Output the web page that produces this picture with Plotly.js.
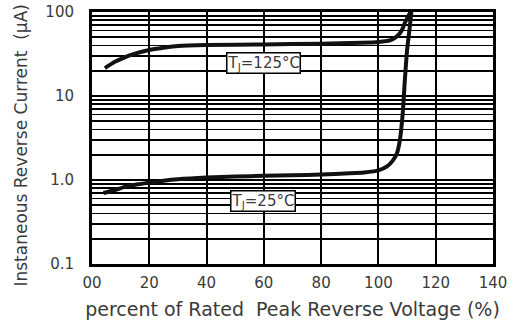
<!DOCTYPE html>
<html>
<head>
<meta charset="utf-8">
<script src="https://cdn.plot.ly/plotly-3.0.1.min.js"></script>
<style>html,body{margin:0;padding:0;background:#fff;}#chart{width:518px;height:327px;}</style>
</head>
<body>
<div id="chart"></div>
<script>
// 125 °C curve
const voltage125 = [4.5, 8, 11, 15, 20, 25, 30, 40, 60, 80, 94, 100, 104, 106, 107.5, 108.5, 109.2, 110.2, 111, 111.4];
const current125 = [21.5, 25.5, 28.5, 32, 35.3, 37.5, 39.4, 40.5, 41, 42, 43, 44, 46, 50, 56, 64, 74, 86, 97, 100];
// 25 °C curve
const voltage25 = [4, 8, 12, 16, 20, 25, 30, 40, 50, 60, 70, 80, 90, 95, 100, 103, 105, 106.5, 107.5, 108.5, 109.2, 110, 110.8, 111.5];
const current25 = [0.70, 0.76, 0.84, 0.89, 0.93, 0.98, 1.02, 1.07, 1.1, 1.12, 1.14, 1.16, 1.2, 1.23, 1.3, 1.45, 1.7, 2.1, 3.0, 6.3, 15, 35, 60, 100];

const xTickVals = [0, 20, 40, 60, 80, 100, 120, 140];
const xTickText = ["00", "20", "40", "60", "80", "100", "120", "140"];
const yTickVals = [0.1, 1, 10, 100];
const yTickText = ["0.1", "1.0", "10", "100"];
const yMinorVals = [0.2,0.3,0.4,0.5,0.6,0.7,0.8,0.9,2,3,4,5,6,7,8,9,20,30,40,50,60,70,80,90];

const traces = [
  {x: voltage125, y: current125, mode: 'lines', line: {color: '#111', width: 4, shape: 'spline', smoothing: 0.6}, hoverinfo: 'skip'},
  {x: voltage25, y: current25, mode: 'lines', line: {color: '#111', width: 4, shape: 'spline', smoothing: 0.6}, hoverinfo: 'skip'}
];

const font = {family: 'DejaVu Sans, Liberation Sans, Arial, sans-serif', color: '#3a3a3a'};

const layout = {
  width: 518, height: 327,
  margin: {l: 92, r: 25, t: 12, b: 63},
  paper_bgcolor: '#fff', plot_bgcolor: '#fff',
  showlegend: false,
  font: Object.assign({size: 15}, font),
  xaxis: {
    range: [0, 140], tickvals: xTickVals, ticktext: xTickText,
    showgrid: true, gridcolor: '#000', gridwidth: 2,
    showline: true, mirror: true, linecolor: '#000', linewidth: 3,
    ticks: '', ticklabelstandoff: 3, zeroline: false,
    tickfont: Object.assign({size: 15}, font),
    title: {text: 'percent of Rated  Peak Reverse Voltage (%)', font: Object.assign({size: 19}, font), standoff: 12}
  },
  yaxis: {
    type: 'log', range: [-1, 2], tickvals: yTickVals, ticktext: yTickText,
    showgrid: true, gridcolor: '#000', gridwidth: 2,
    minor: {tickvals: yMinorVals, showgrid: true, gridcolor: '#000', gridwidth: 1.6, ticks: ''},
    showline: true, mirror: true, linecolor: '#000', linewidth: 3,
    ticks: '', ticklabelstandoff: 12, zeroline: false,
    tickfont: Object.assign({size: 15}, font)
  },
  annotations: [
    {xref: 'paper', yref: 'paper', x: -0.177, y: 0.47, text: 'Instaneous Reverse Current  (μA)', textangle: -90, showarrow: false,
     font: Object.assign({size: 17}, font), xanchor: 'center', yanchor: 'middle'},
    {xref: 'x', yref: 'y', x: 60, y: 1.393, text: 'T<sub>J</sub>=125°C', showarrow: false,
     bgcolor: '#fff', bordercolor: '#000', borderwidth: 1.5, borderpad: 0, font: Object.assign({size: 15}, font)},
    {xref: 'x', yref: 'y', x: 59.7, y: -0.25, text: 'T<sub>J</sub>=25°C', showarrow: false,
     bgcolor: '#fff', bordercolor: '#000', borderwidth: 1.5, borderpad: 0, font: Object.assign({size: 15}, font)}
  ]
};

Plotly.newPlot('chart', traces, layout, {displayModeBar: false, staticPlot: true});
</script>
</body>
</html>
